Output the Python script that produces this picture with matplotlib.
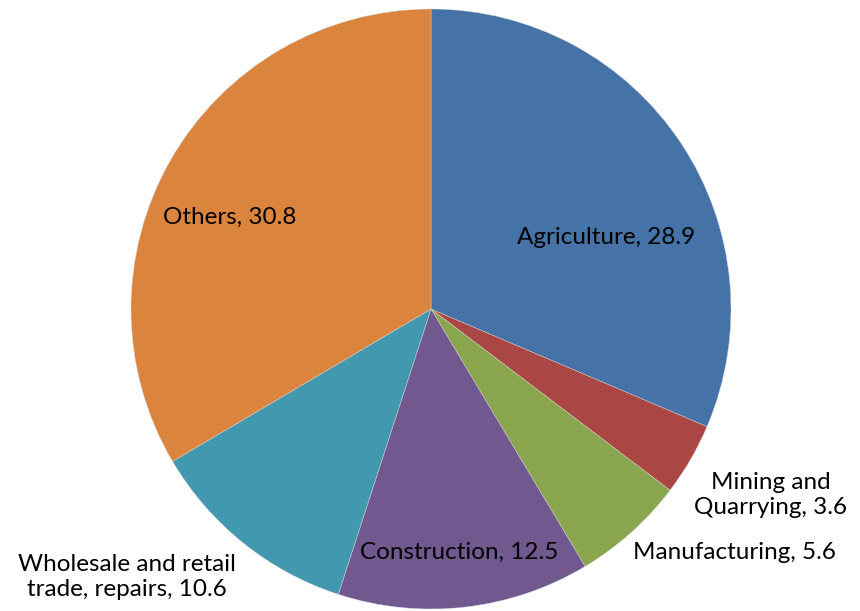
import matplotlib.pyplot as plt

sectors = ["Agriculture", "Mining and\nQuarrying", "Manufacturing", "Construction",
           "Wholesale and retail\ntrade, repairs", "Others"]
shares = [28.9, 3.6, 5.6, 12.5, 10.6, 30.8]
colors = ["#4572A7", "#AA4643", "#89A54E", "#71588F", "#4198AF", "#DB843D"]

# label positions (data coords, pie radius = 1)
label_pos = [(0.583, 0.24), (1.133, -0.62), (1.01, -0.813), (0.093, -0.81),
             (-1.013, -0.893), (-0.67, 0.307)]

plt.rcParams["font.family"] = ["Lato", "DejaVu Sans"]

fig = plt.figure(figsize=(8.6, 6.11), dpi=100)
ax = fig.add_axes([131 / 860, 2 / 611, 600 / 860, 600 / 611])
ax.pie(shares, colors=colors, startangle=90, counterclock=False, radius=1,
       wedgeprops=dict(edgecolor="#d8d8d8", linewidth=0.3))

for name, val, (x, y) in zip(sectors, shares, label_pos):
    ax.text(x, y, f"{name}, {val}", ha="center", va="center", fontsize=17.5,
            color="black", linespacing=1.25)

ax.set_xlim(-1, 1)
ax.set_ylim(-1, 1)
ax.set_aspect("equal")
ax.axis("off")

fig.savefig("out.png", dpi=100)
